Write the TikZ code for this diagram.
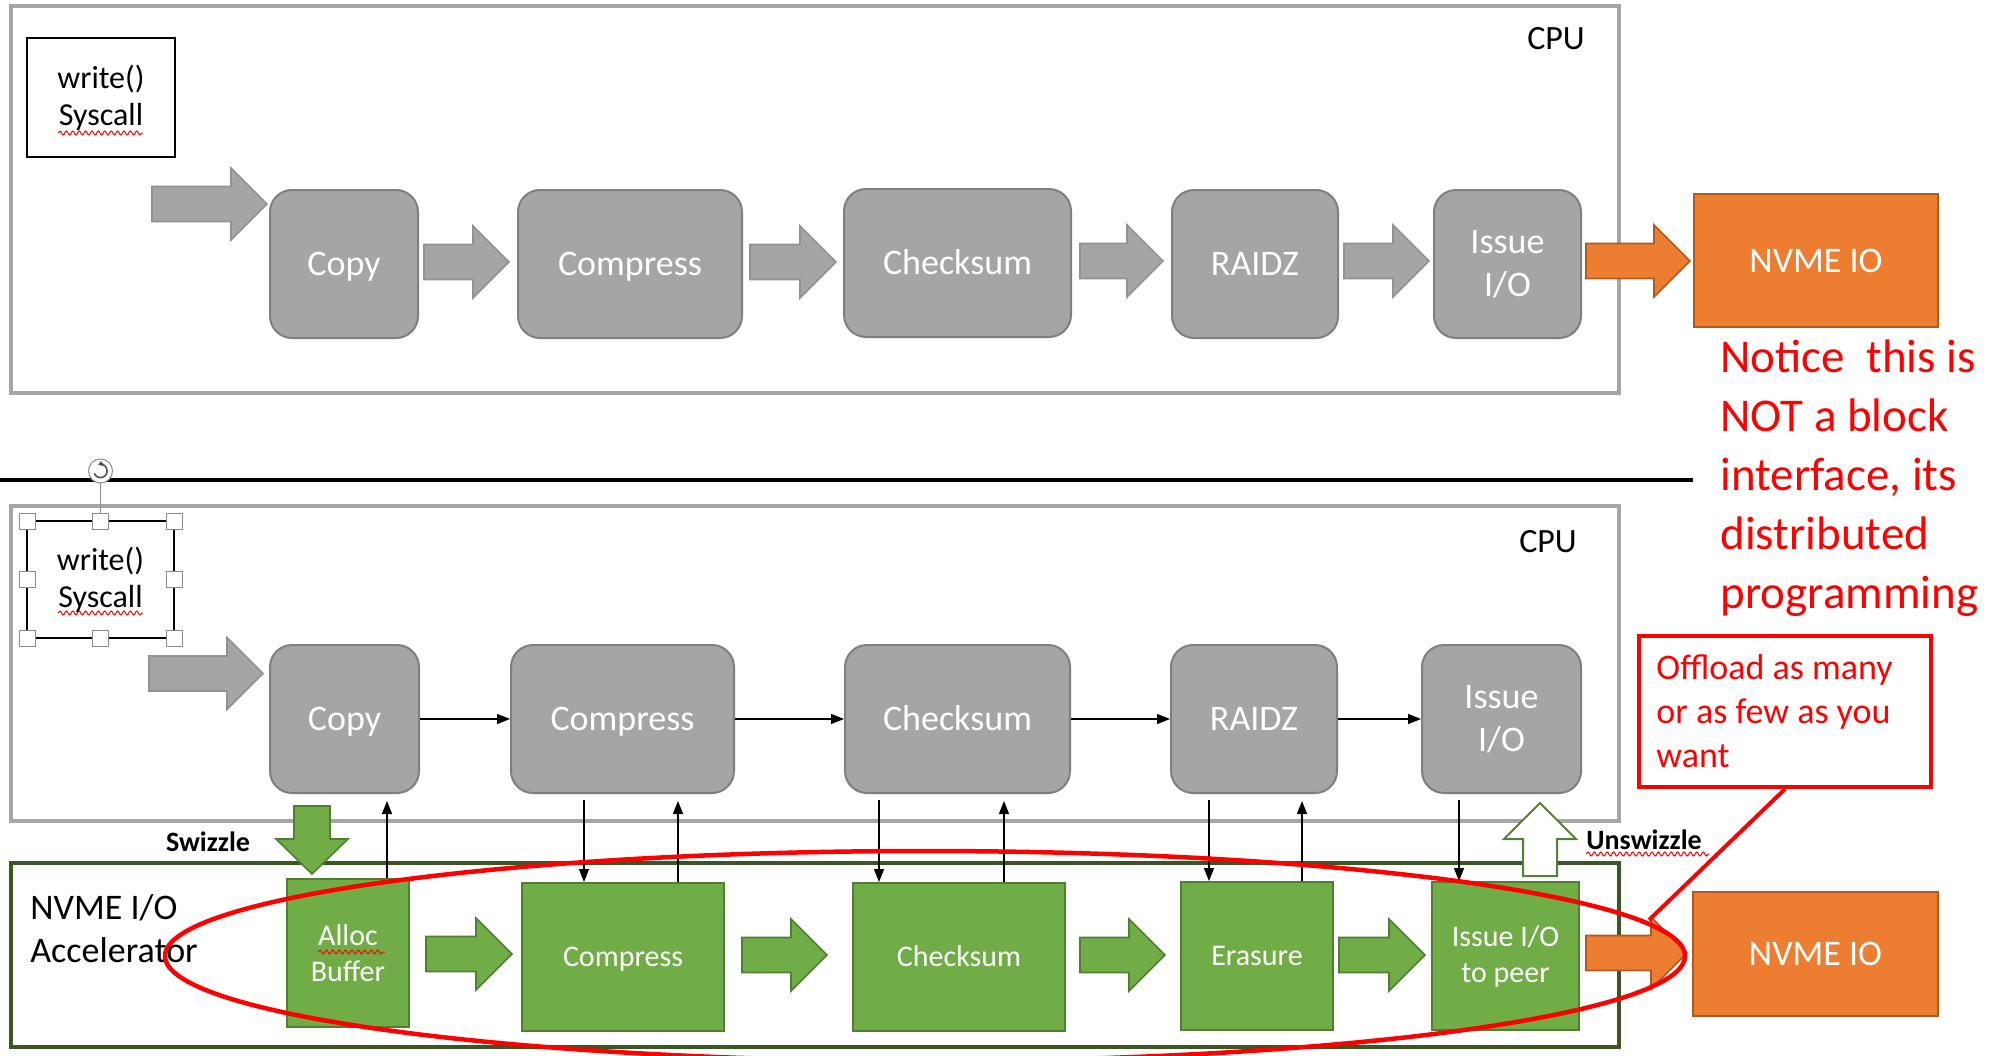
\documentclass[tikz,border=0pt]{standalone}
\usepackage{fontspec}
\setmainfont{Carlito}
\usetikzlibrary{arrows.meta,calc,decorations.pathmorphing}

\definecolor{boxgray}{HTML}{A5A5A5}
\definecolor{boxedge}{HTML}{7F7F7F}
\definecolor{framegray}{HTML}{A6A6A6}
\definecolor{accgreen}{HTML}{70AD47}
\definecolor{accedge}{HTML}{507E32}
\definecolor{accframecol}{HTML}{385723}
\definecolor{nvmeorange}{HTML}{ED7D31}
\definecolor{nvmeedge}{HTML}{AE5A21}
\definecolor{outlinegreen}{HTML}{548235}
\definecolor{notered}{HTML}{FF0000}
\definecolor{handlegray}{HTML}{8C8C8C}

\newcommand\txtBox{\fontsize{18pt}{21.5pt}\selectfont}
\newcommand\txtGreen{\fontsize{15pt}{18pt}\selectfont}
\newcommand\txtSys{\fontsize{16pt}{18.5pt}\selectfont}
\newcommand\txtCpu{\fontsize{17pt}{20pt}\selectfont}
\newcommand\txtNote{\fontsize{23.5pt}{29.5pt}\selectfont}
\newcommand\txtCallout{\fontsize{18pt}{22pt}\selectfont}
\newcommand\txtTag{\fontsize{14pt}{16pt}\selectfont\bfseries}

% box node spanning two corners: style, name, x1, y1, x2, y2, text
\newcommand\stagebox[7]{\node[#1, minimum width={(#5-#3)*0.5pt}, minimum height={(#6-#4)*0.5pt}] (#2) at ({(#3+#5)/2},{(#4+#6)/2}) {#7};}
% block arrow pointing right: style, tail x, tip x, centre y
\newcommand\blockRight[4]{\draw[#1] (#2,#4-17.5) -- (#3-36,#4-17.5) -- (#3-36,#4-36) -- (#3,#4) -- (#3-36,#4+36) -- (#3-36,#4+17.5) -- (#2,#4+17.5) -- cycle;}
% block arrow pointing down: style, centre x, tail y, tip y
\newcommand\blockDown[4]{\draw[#1] (#2-18,#3) -- (#2+18,#3) -- (#2+18,#4-35) -- (#2+36,#4-35) -- (#2,#4) -- (#2-36,#4-35) -- (#2-18,#4-35) -- cycle;}
% block arrow pointing up: style, centre x, tail y, tip y
\newcommand\blockUp[4]{\draw[#1] (#2-17,#3) -- (#2+17,#3) -- (#2+17,#4+36) -- (#2+36,#4+36) -- (#2,#4) -- (#2-36,#4+36) -- (#2-17,#4+36) -- cycle;}

\begin{document}
\begin{tikzpicture}[x=0.5pt,y=-0.5pt,
  stage/.style={draw=boxedge, fill=boxgray, line width=1pt, rounded corners=11pt, inner sep=0pt, text=white, font=\txtBox, align=center},
  accstage/.style={draw=accedge, fill=accgreen, line width=1pt, inner sep=0pt, text=white, font=\txtGreen, align=center},
  nvme/.style={draw=nvmeedge, fill=nvmeorange, line width=1pt, inner sep=0pt, text=white, font=\txtBox},
  cpuframe/.style={draw=framegray, line width=2pt, inner sep=0pt},
  accframe/.style={draw=accframecol, line width=2pt, inner sep=0pt},
  sysbox/.style={draw=black, inner sep=0pt, font=\txtSys, align=center},
  grayarrow/.style={draw=boxedge!85, fill=boxgray, line width=0.8pt},
  greenarrow/.style={draw=accedge, fill=accgreen, line width=0.8pt},
  orangearrow/.style={draw=nvmeedge, fill=nvmeorange, line width=0.8pt},
  flow/.style={line width=0.65pt, -{Triangle[length=6.5pt,width=5pt]}},
  squiggle/.style={draw=notered, line width=0.5pt, decorate, decoration={snake, amplitude=1pt, segment length=3.2pt}},
  handle/.style={fill=white, draw=handlegray, line width=0.5pt},
  oneline/.style={text height=11.6pt, text depth=0pt},
  greenline/.style={text height=9.7pt, text depth=0pt},
  note/.style={text=notered, font=\txtNote, inner sep=0pt},
  calloutline/.style={text=notered, font=\txtCallout, inner sep=0pt},
  tag/.style={font=\txtTag, inner sep=0pt},
  cpulabel/.style={font=\txtCpu, inner sep=0pt, text height=11pt, text depth=0pt}]

\useasboundingbox (0,0) rectangle (2000,1055);
\fill[white] (0,0) rectangle (2000,1055);

% ---------------- upper pipeline: everything on the CPU ----------------
\stagebox{cpuframe}{cpuTop}{11}{6}{1619}{393}{}
\node[cpulabel] (cpuTopLbl) at (1556,38) {CPU};
\stagebox{sysbox, line width=1.25pt}{sysTop}{27}{38}{175}{157}{write()\\Syscall}
\draw[squiggle] (58,133) -- (143,133);

\stagebox{stage, oneline}{copyT}{270}{190}{418}{338}{Copy}
\stagebox{stage, oneline}{compT}{518}{190}{742}{338}{Compress}
\stagebox{stage, oneline}{sumT}{844}{189}{1071}{337}{Checksum}
\stagebox{stage, oneline}{raidT}{1172}{190}{1338}{338}{RAIDZ}
\stagebox{stage}{issueT}{1434}{190}{1581}{338}{Issue\\I/O}
\stagebox{nvme, oneline}{nvmeT}{1694}{194}{1938}{327}{NVME IO}

\blockRight{grayarrow}{152}{267}{204}
\blockRight{grayarrow}{424}{509}{262}
\blockRight{grayarrow}{750}{836}{262}
\blockRight{grayarrow}{1080}{1163}{261}
\blockRight{grayarrow}{1344}{1429}{261}
\blockRight{orangearrow}{1586}{1690}{261}

% remark on the right
\node[note, anchor=base west] (note1) at (1720,372) {Notice\ \ this is};
\node[note, anchor=base west] (note2) at (1720,431) {NOT a block};
\node[note, anchor=base west] (note3) at (1720,490) {interface, its};
\node[note, anchor=base west] (note4) at (1720,549) {distributed};
\node[note, anchor=base west] (note5) at (1720,608) {programming};

% separator
\draw[line width=2pt] (0,480) -- (1693,480);

% ---------------- lower pipeline: CPU with accelerator offload ----------------
\stagebox{cpuframe}{cpuBot}{11}{506}{1619}{821}{}
\node[cpulabel] (cpuBotLbl) at (1548,541) {CPU};
\stagebox{sysbox, line width=0.75pt}{sysBot}{27}{521}{174}{638}{write()\\Syscall}
\draw[squiggle] (58,613) -- (143,613);
% selection handles of the text box
\draw[handlegray, line width=0.75pt] (100.5,483) -- (100.5,513);
\foreach \hx/\hy in {27/521, 100.5/521, 174/521, 27/579.5, 174/579.5, 27/638, 100.5/638, 174/638}
  \draw[handle] (\hx-8,\hy-8) rectangle (\hx+8,\hy+8);
\draw[handle] (100.5,471) circle[radius=6pt];
\draw[handlegray!60!black, line width=0.8pt, -{Triangle[length=2pt,width=2.6pt]}]
  (100.5,471) ++(-160:3.3pt) arc[start angle=-160, end angle=110, radius=3.3pt];

\stagebox{stage, oneline}{copyB}{270}{645}{419}{793}{Copy}
\stagebox{stage, oneline}{compB}{511}{645}{734}{793}{Compress}
\stagebox{stage, oneline}{sumB}{845}{645}{1070}{793}{Checksum}
\stagebox{stage, oneline}{raidB}{1171}{645}{1337}{793}{RAIDZ}
\stagebox{stage}{issueB}{1422}{645}{1581}{793}{Issue\\I/O}

\blockRight{grayarrow}{149}{263}{673.5}
\draw[flow] (copyB) -- (compB);
\draw[flow] (compB) -- (sumB);
\draw[flow] (sumB) -- (raidB);
\draw[flow] (raidB) -- (issueB);

% accelerator
\stagebox{accframe}{accel}{11}{863}{1619}{1047}{}
\node[font=\txtBox, align=left, anchor=west, inner sep=0pt] (accelLbl) at (30,929) {NVME I/O\\Accelerator};

\stagebox{accstage}{allocG}{287}{879}{409}{1027}{Alloc\\Buffer}
\draw[squiggle] (318,952) -- (385,952);
\stagebox{accstage, greenline}{compG}{522}{883}{724}{1031}{Compress}
\stagebox{accstage, greenline}{sumG}{853}{883}{1065}{1031}{Checksum}
\stagebox{accstage, greenline}{eraseG}{1181}{882}{1333}{1030}{Erasure}
\stagebox{accstage}{issueG}{1432}{882}{1579}{1030}{Issue I/O\\to peer}
\stagebox{nvme, oneline}{nvmeB}{1693}{892}{1938}{1016}{NVME IO}

\blockRight{greenarrow}{426}{512}{954}
\blockRight{greenarrow}{742}{827}{955}
\blockRight{greenarrow}{1080}{1165}{955}
\blockRight{greenarrow}{1339}{1425}{955}
\blockRight{orangearrow}{1586}{1687}{953}

% hand-off between CPU and accelerator
\blockDown{greenarrow}{312}{806}{874}
\blockUp{draw=outlinegreen, fill=white, line width=1pt}{1540}{876}{803}
\node[tag] (swz) at (208,842) {Swizzle};
\node[tag, anchor=west] (unswz) at (1586,840) {Unswizzle};
\draw[squiggle] (1586,854) -- (1709,854);

\coordinate (u1) at (387,0);
\coordinate (d2) at (584,0);  \coordinate (u2) at (678,0);
\coordinate (d3) at (879,0);  \coordinate (u3) at (1004,0);
\coordinate (d4) at (1209,0); \coordinate (u4) at (1302,0);
\coordinate (d5) at (1459,0);
\draw[flow, shorten >=3.5pt] (allocG.north -| u1) -- (copyB.south -| u1);
\draw[flow, shorten <=3pt] (compB.south -| d2) -- (compG.north -| d2);
\draw[flow, shorten >=3.5pt] (compG.north -| u2) -- (compB.south -| u2);
\draw[flow, shorten <=3pt] (sumB.south -| d3) -- (sumG.north -| d3);
\draw[flow, shorten >=3.5pt] (sumG.north -| u3) -- (sumB.south -| u3);
\draw[flow, shorten <=3pt] (raidB.south -| d4) -- (eraseG.north -| d4);
\draw[flow, shorten >=3.5pt] (eraseG.north -| u4) -- (raidB.south -| u4);
\draw[flow, shorten <=3pt] (issueB.south -| d5) -- (issueG.north -| d5);

% offloaded region and its callout
\draw[notered, line width=2.25pt] (925,956) ellipse[x radius=380pt, y radius=52.5pt];
\stagebox{draw=notered, line width=2pt, fill=white, inner sep=0pt}{offload}{1639}{636}{1931}{787}{}
\node[calloutline, anchor=base west] (off1) at (1656,679) {Offload as many};
\node[calloutline, anchor=base west] (off2) at (1656,723) {or as few as you};
\node[calloutline, anchor=base west] (off3) at (1656,767) {want};
\coordinate (ptrEnd) at (1649,920);
\draw[notered, line width=2pt] (offload.south) -- (ptrEnd);

\end{tikzpicture}
\end{document}
